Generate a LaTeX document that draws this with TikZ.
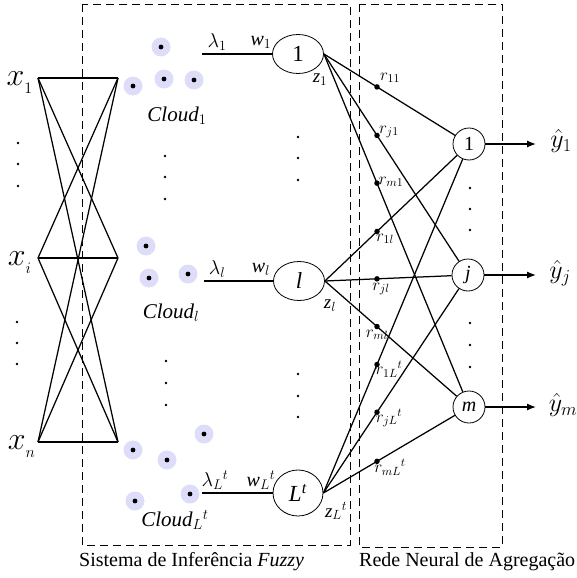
\RequirePackage{fix-cm}
\documentclass[tikz,border=0pt]{standalone}
\usepackage{fontspec}
\setmainfont{Liberation Serif}
\usetikzlibrary{calc,arrows.meta,shapes.geometric}
\definecolor{halocol}{RGB}{221,221,249}
\begin{document}
\begin{tikzpicture}[x=1pt,y=-1pt,
  conn/.style={line width=1.25pt},
  frame/.style={line width=0.7pt, dash pattern=on 8pt off 5pt},
  rule/.style={draw, ellipse, line width=0.8pt, minimum width=51pt, minimum height=39pt, inner sep=0pt, font=\fontsize{23}{26}\selectfont},
  outn/.style={draw, circle, line width=0.8pt, minimum size=32pt, inner sep=0pt, font=\fontsize{20}{22}\selectfont},
  vdot/.style={fill, circle, inner sep=0pt, minimum size=2.6pt},
  wdot/.style={fill, circle, inner sep=0pt, minimum size=5.5pt},
  pt/.style={inner sep=0pt, minimum size=0pt},
  xlab/.style={inner sep=0pt, font=\fontsize{32}{36}\selectfont},
  ylab/.style={inner sep=0pt, font=\fontsize{26}{30}\selectfont},
  cloudlab/.style={inner sep=0pt, font=\fontsize{21}{24}\selectfont},
  wlab/.style={inner sep=0pt, font=\fontsize{20}{22}\selectfont},
  zlab/.style={inner sep=0pt, font=\fontsize{19}{22}\selectfont},
  rlab/.style={inner sep=0pt, font=\fontsize{17}{19}\selectfont},
  title/.style={inner sep=0pt, anchor=west, font=\fontsize{20}{24}\selectfont},
  cpt/.pic={\fill[halocol] (0,0) circle (9.5pt); \fill (0,0) circle (2.4pt);}
]
\useasboundingbox (0,0) rectangle (577,578);

% dashed frames
\draw[frame] (82,4) rectangle (350,545);
\draw[frame] (359,4) rectangle (502,547);

% input layer
\foreach \k/\yy in {1/78, i/258, n/442} {
  \node[pt] (xl\k) at (38,\yy) {};
  \node[pt] (xr\k) at (118,\yy) {};
}
\foreach \a in {1,i,n}
  \foreach \b in {1,i,n}
    \draw[conn] (xl\a.center) -- (xr\b.center);

\node[xlab] (lx1) at (20,83) {$x_{_1}$};
\node[xlab] (lxi) at (20,263) {$x_{_i}$};
\node[xlab] (lxn) at (22,447) {$x_{_n}$};

\foreach \yy [count=\c] in {143,164,186} \node[vdot] (da\c) at (18,\yy) {};
\foreach \yy [count=\c] in {322,343,364} \node[vdot] (db\c) at (17,\yy) {};

% clouds
\foreach \px/\py in {161/47, 164/79, 194/80, 133/86,
                     146/246, 149/278, 188/274,
                     204/434, 133/450, 167/460, 190/494, 135/501}
  \pic at (\px,\py) {cpt};

\node[cloudlab] (cl1) at (177,116) {\textit{Cloud}$_1$};
\node[cloudlab] (cll) at (171,313) {\textit{Cloud}$_l$};
\node[cloudlab] (clL) at (175,520) {\textit{Cloud}$_L{}^{t}$};

\foreach \yy [count=\c] in {156,177,199} \node[vdot] (dc\c) at (165,\yy) {};
\foreach \yy [count=\c] in {361,383,405} \node[vdot] (dd\c) at (166,\yy) {};

% rule nodes
\node[rule] (R1) at (298,54) {1};
\node[rule] (Rl) at (299,281) {\textit{l}};
\node[rule, minimum height=46pt, minimum width=50pt] (RL) at (298,493) {\textit{L}\textsuperscript{\textit{t}}};

\node[pt] (c1) at (202,54) {};
\node[pt] (cl) at (204,281) {};
\node[pt] (cL) at (202,493) {};
\draw[conn] (c1.center) -- (R1.west);
\draw[conn] (cl.center) -- (Rl.west);
\draw[conn] (cL.center) -- (RL.west);

\node[wlab] (lam1) at (217,42) {$\lambda_1$};
\node[wlab] (w1) at (261,42) {\textit{w}$_1$};
\node[wlab] (laml) at (217,269) {$\lambda_l$};
\node[wlab] (wl) at (261,269) {\textit{w}$_l$};
\node[wlab] (lamL) at (215,480) {$\lambda_L{}^{t}$};
\node[wlab] (wL) at (261,480) {\textit{w}$_L{}^{t}$};

\node[zlab] (z1) at (320,80) {\textit{z}$_1$};
\node[zlab] (zl) at (330,306) {\textit{z}$_l$};
\node[zlab] (zL) at (336,511) {\textit{z}$_L{}^{t}$};

\foreach \yy [count=\c] in {137,158,180} \node[vdot] (de\c) at (298,\yy) {};
\foreach \yy [count=\c] in {374,396,417} \node[vdot] (df\c) at (298,\yy) {};

% output nodes
\node[outn] (O1) at (469,144) {1};
\node[outn] (Oj) at (468,275) {\textit{j}};
\node[outn] (Om) at (469,407) {\textit{m}};

\foreach \yy [count=\c] in {188,209,230} \node[vdot] (dg\c) at (470,\yy) {};
\foreach \yy [count=\c] in {323,345,367} \node[vdot] (dh\c) at (470,\yy) {};

% connections with weights
\foreach \r/\rn in {R1/1, Rl/l, RL/L}
  \foreach \o/\on in {O1/1, Oj/j, Om/m} {
    \draw[conn] (\r.east) -- (\o);
    \path let \p1=(\r.east), \p2=(\o.center),
              \n1={scalar((377pt-\x1)/(\x2-\x1))} in
      node[wdot] (r\on\rn) at ($(\p1)!\n1!(\p2)$) {};
  }

\node[rlab] (lr11) at (390,78) {$r_{11}$};
\node[rlab] (lrj1) at (389,132) {$r_{j1}$};
\node[rlab] (lrm1) at (391,182) {$r_{m1}$};
\node[rlab] (lr1l) at (385,239) {$r_{1l}$};
\node[rlab] (lrjl) at (381,289) {$r_{jl}$};
\node[rlab] (lrml) at (377,335) {$r_{ml}$};
\node[rlab] (lr1L) at (389,369) {$r_{1L}{}^{t}$};
\node[rlab] (lrjL) at (389,418) {$r_{jL}{}^{t}$};
\node[rlab] (lrmL) at (390,467) {$r_{mL}{}^{t}$};

% outputs
\node[pt] (e1) at (536,144) {};
\node[pt] (ej) at (536,275) {};
\node[pt] (em) at (536,407) {};
\draw[conn, -{Latex[length=9pt,width=7pt]}] (O1.east) -- (e1.center);
\draw[conn, -{Latex[length=9pt,width=7pt]}] (Oj.east) -- (ej.center);
\draw[conn, -{Latex[length=9pt,width=7pt]}] (Om.east) -- (em.center);

\node[ylab] (y1) at (561,141) {$\hat{y}_1$};
\node[ylab] (yj) at (560,273) {$\hat{y}_j$};
\node[ylab] (ym) at (563,405) {$\hat{y}_m$};

% titles
\node[title] (sys) at (79,562) {Sistema de Inferência \textit{Fuzzy}};
\node[title] (rede) at (359,562) {Rede Neural de Agregação};
\end{tikzpicture}
\end{document}
